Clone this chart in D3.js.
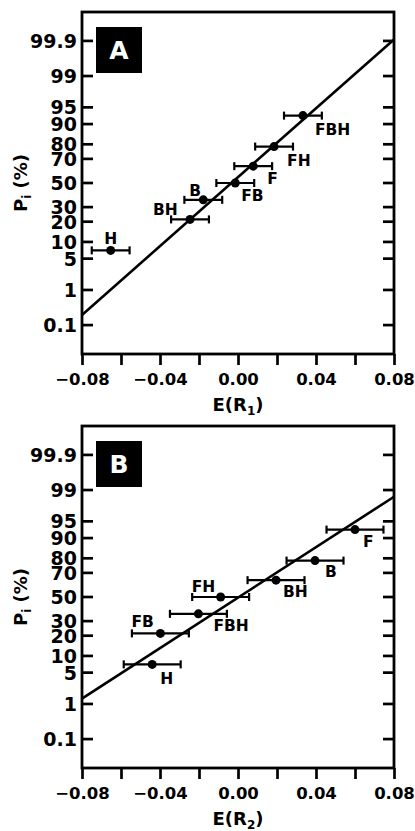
<!DOCTYPE html>
<html>
<head>
<meta charset="utf-8">
<script src="https://cdn.jsdelivr.net/npm/d3@7"></script>
<style>
  body { margin: 0; background: #fff; }
  svg text { font-family: "DejaVu Sans", sans-serif; font-weight: bold; }
</style>
</head>
<body>
<div id="chart"></div>
<script>
// cumulative probability (%) of each rank, shared by both panels
var probs = [7.14, 21.43, 35.71, 50, 64.29, 78.57, 92.86];

// panel A : E(R1)
var labelsA = ["H", "BH", "B", "FB", "F", "FH", "FBH"];
var valuesA = [-0.0653, -0.0246, -0.0178, -0.0014, 0.0078, 0.0185, 0.0333];
var errA = [0.0097, 0.0097, 0.0097, 0.0097, 0.0097, 0.0097, 0.0097];
var fitA = [[-0.08, 0.205], [0.08, 99.91]];

// panel B : E(R2)
var labelsB = ["H", "FB", "FBH", "FH", "BH", "B", "F"];
var valuesB = [-0.044, -0.0398, -0.0203, -0.0089, 0.0195, 0.0395, 0.060];
var errB = [0.0146, 0.0146, 0.0146, 0.0146, 0.0146, 0.0146, 0.0146];
var fitB = [[-0.08, 1.36], [0.08, 98.54]];

var probTicks = [0.1, 1, 5, 10, 20, 30, 50, 70, 80, 90, 95, 99, 99.9];
var xTicks = [-0.08, -0.06, -0.04, -0.02, 0, 0.02, 0.04, 0.06, 0.08];
var xLabelTicks = [-0.08, -0.04, 0, 0.04, 0.08];

// label placement (dx, dy, anchor) for each point label
var placeA = {
    "H": [0, -6, "middle"], "BH": [-37, -4, "start"], "B": [-14, -4, "start"],
    "FB": [6, 18, "start"], "F": [14, 18, "start"], "FH": [13, 19, "start"], "FBH": [12, 19, "start"]
};
var placeB = {
    "H": [8, 20, "start"], "FB": [-29, -6, "start"], "FBH": [15, 17, "start"],
    "FH": [-29, -5, "start"], "BH": [7, 17, "start"], "B": [10, 16, "start"], "F": [8, 17, "start"]
};

// inverse of the standard normal cdf (Acklam)
function probit(p) {
    var a = [-39.6968302866538, 220.946098424521, -275.928510446969, 138.357751867269, -30.6647980661472, 2.50662827745924];
    var b = [-54.4760987982241, 161.585836858041, -155.698979859887, 66.8013118877197, -13.2806815528857];
    var c = [-0.00778489400243029, -0.322396458041136, -2.40075827716184, -2.54973253934373, 4.37466414146497, 2.93816398269878];
    var d = [0.00778469570904146, 0.32246712907004, 2.445134137143, 3.75440866190742];
    var pl = 0.02425, q, r;
    if (p < pl) {
        q = Math.sqrt(-2 * Math.log(p));
        return (((((c[0]*q+c[1])*q+c[2])*q+c[3])*q+c[4])*q+c[5]) / ((((d[0]*q+d[1])*q+d[2])*q+d[3])*q+1);
    }
    if (p > 1 - pl) {
        q = Math.sqrt(-2 * Math.log(1 - p));
        return -(((((c[0]*q+c[1])*q+c[2])*q+c[3])*q+c[4])*q+c[5]) / ((((d[0]*q+d[1])*q+d[2])*q+d[3])*q+1);
    }
    q = p - 0.5; r = q * q;
    return (((((a[0]*r+a[1])*r+a[2])*r+a[3])*r+a[4])*r+a[5])*q / (((((b[0]*r+b[1])*r+b[2])*r+b[3])*r+b[4])*r+1);
}

var width = 415, height = 831;
var svg = d3.select("#chart").append("svg")
    .attr("width", width)
    .attr("height", height);

function drawPanel(top, letter, labels, values, errs, fit, place, sub) {
    var left = 82, right = 394, bottom = top + 342;

    var x = d3.scaleLinear().domain([-0.08, 0.08]).range([left, right]);
    var z = d3.scaleLinear().domain([probit(0.0001), probit(0.9999)]).range([bottom, top]);
    var y = function(pct) { return z(probit(pct / 100)); };

    var g = svg.append("g");

    g.append("defs").append("clipPath").attr("id", "clip" + letter)
        .append("rect").attr("x", left).attr("y", top)
        .attr("width", right - left).attr("height", bottom - top);

    // y ticks (inside, both sides)
    probTicks.forEach(function(t) {
        g.append("line").attr("x1", left).attr("x2", left + 11)
            .attr("y1", y(t)).attr("y2", y(t))
            .attr("stroke", "#000").attr("stroke-width", 2.7);
        g.append("line").attr("x1", right - 11).attr("x2", right)
            .attr("y1", y(t)).attr("y2", y(t))
            .attr("stroke", "#000").attr("stroke-width", 2.7);
        g.append("text").attr("x", left - 5).attr("y", y(t))
            .attr("dy", "0.37em")
            .attr("text-anchor", "end")
            .attr("font-size", 19)
            .text(t);
    });

    // bottom axis
    var xAxis = d3.axisBottom(x).tickValues(xTicks).tickSizeOuter(0).tickSizeInner(11)
        .tickFormat(function(d) {
            return xLabelTicks.some(function(v) { return Math.abs(v - d) < 1e-9; }) ? d3.format(".2f")(d) : "";
        });
    var ax = g.append("g").attr("transform", "translate(0," + bottom + ")").call(xAxis);
    ax.select(".domain").remove();
    ax.selectAll(".tick line").attr("stroke", "#000").attr("stroke-width", 2.7);
    ax.selectAll(".tick text").attr("font-size", 16.5).attr("font-family", "DejaVu Sans")
        .attr("font-weight", "bold").attr("fill", "#000").attr("dy", "1.05em");

    // frame
    g.append("rect").attr("x", left).attr("y", top)
        .attr("width", right - left).attr("height", bottom - top)
        .attr("fill", "none").attr("stroke", "#000").attr("stroke-width", 2.8);

    // fitted line
    g.append("line")
        .attr("clip-path", "url(#clip" + letter + ")")
        .attr("x1", x(fit[0][0])).attr("y1", y(fit[0][1]))
        .attr("x2", x(fit[1][0])).attr("y2", y(fit[1][1]))
        .attr("stroke", "#000").attr("stroke-width", 2.6);

    // points with error bars
    values.forEach(function(v, i) {
        var cy = y(probs[i]);
        var x0 = x(v - errs[i]), x1 = x(v + errs[i]);
        g.append("line").attr("x1", x0).attr("x2", x1).attr("y1", cy).attr("y2", cy)
            .attr("stroke", "#000").attr("stroke-width", 2.2);
        [x0, x1].forEach(function(xx) {
            g.append("line").attr("x1", xx).attr("x2", xx).attr("y1", cy - 4).attr("y2", cy + 4)
                .attr("stroke", "#000").attr("stroke-width", 2.2);
        });
        g.append("circle").attr("cx", x(v)).attr("cy", cy).attr("r", 4.5).attr("fill", "#000");
        var p = place[labels[i]];
        g.append("text").attr("x", x(v) + p[0]).attr("y", cy + p[1])
            .attr("text-anchor", p[2]).attr("font-size", 15.5)
            .text(labels[i]);
    });

    // panel letter box
    g.append("rect").attr("x", 96).attr("y", top + 15).attr("width", 46).attr("height", 46)
        .attr("fill", "#000");
    g.append("text").attr("x", 119).attr("y", top + 38).attr("dy", "0.36em")
        .attr("text-anchor", "middle").attr("fill", "#fff").attr("font-size", 25)
        .text(letter);

    // x title
    var xt = g.append("text").attr("x", (left + right) / 2).attr("y", bottom + 57)
        .attr("text-anchor", "middle").attr("font-size", 18);
    xt.append("tspan").text("E(R");
    xt.append("tspan").attr("font-size", 12).attr("dy", 4).text(sub);
    xt.append("tspan").attr("dy", -4).text(")");

    // y title
    var yt = g.append("text")
        .attr("transform", "translate(27," + (top + 171) + ") rotate(-90)")
        .attr("text-anchor", "middle").attr("font-size", 18);
    yt.append("tspan").text("P");
    yt.append("tspan").attr("font-size", 12).attr("dy", 4).text("i");
    yt.append("tspan").attr("dy", -4).text(" (%)");
}

drawPanel(12, "A", labelsA, valuesA, errA, fitA, placeA, "1");
drawPanel(426, "B", labelsB, valuesB, errB, fitB, placeB, "2");
</script>
</body>
</html>
